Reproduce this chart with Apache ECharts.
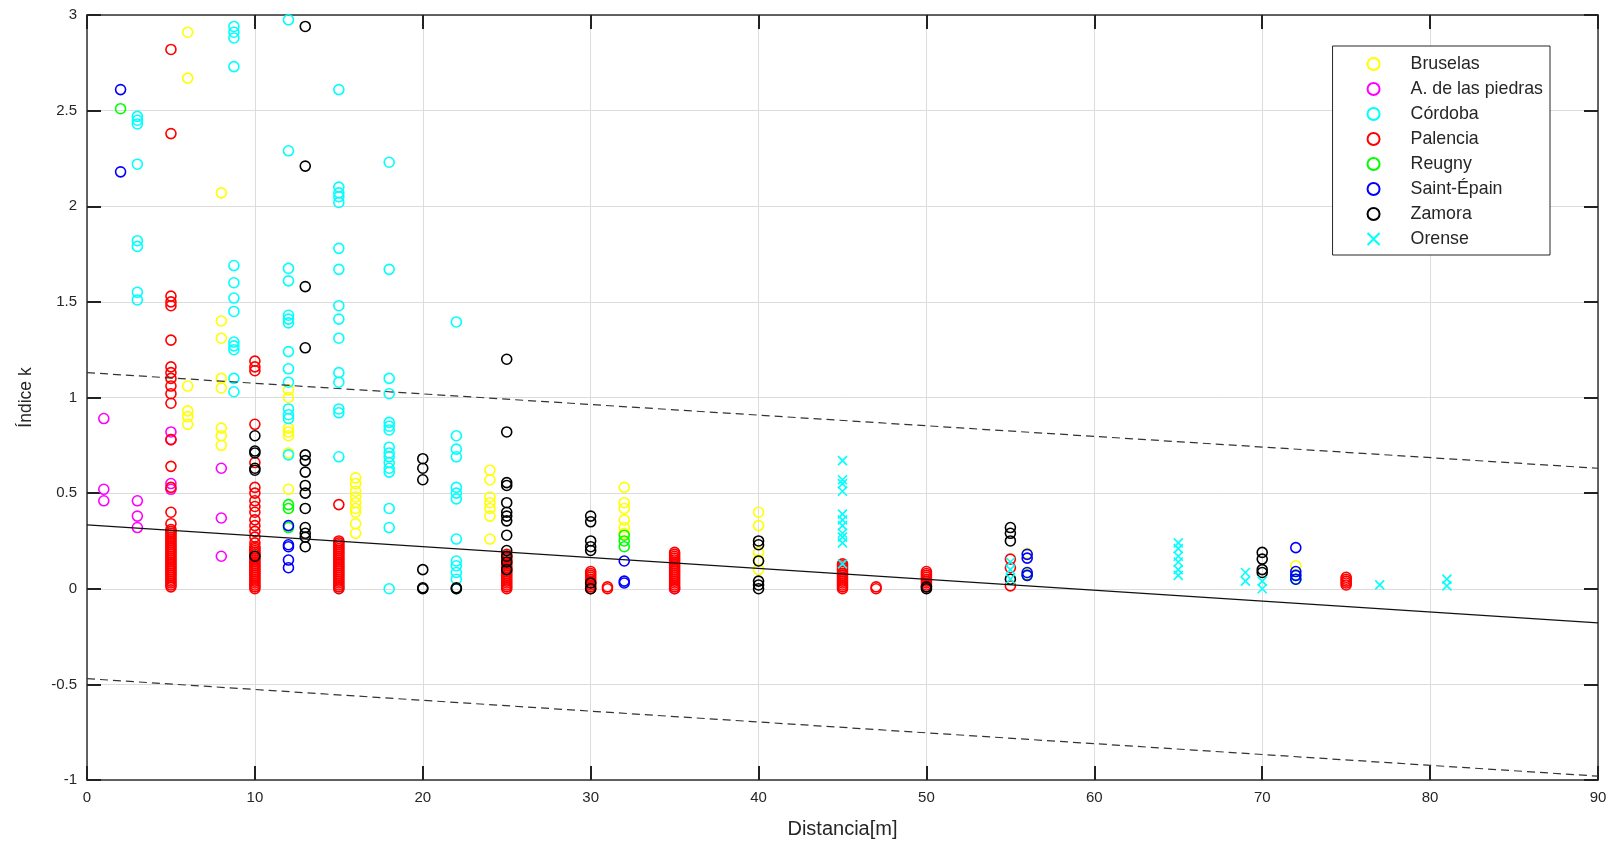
<!DOCTYPE html>
<html>
<head>
<meta charset="utf-8">
<script src="https://cdn.jsdelivr.net/npm/echarts@6/dist/echarts.min.js"></script>
<style>
html,body{margin:0;padding:0;background:#fff;}
#chart{width:1616px;height:848px;}
</style>
</head>
<body>
<div id="chart"></div>
<script>
// ---- Data ----
const seriesNames = ['Bruselas', 'A. de las piedras', 'Córdoba', 'Palencia', 'Reugny', 'Saint-Épain', 'Zamora', 'Orense'];
const seriesColors = ['#ffff00', '#ff00ff', '#00ffff', '#ff0000', '#00ff00', '#0000ff', '#000000', '#00ffff'];

const bruselas = [
  [6,2.91],[6,2.67],[6,1.06],[6,0.93],[6,0.90],[6,0.86],
  [8,2.07],[8,1.40],[8,1.31],[8,1.10],[8,1.05],[8,0.84],[8,0.80],[8,0.75],
  [12,1.04],[12,1.00],[12,0.84],[12,0.82],[12,0.80],[12,0.71],[12,0.52],
  [16,0.58],[16,0.55],[16,0.51],[16,0.48],[16,0.45],[16,0.42],[16,0.40],[16,0.34],[16,0.29],
  [24,0.62],[24,0.57],[24,0.48],[24,0.45],[24,0.42],[24,0.38],[24,0.26],
  [32,0.53],[32,0.45],[32,0.42],[32,0.36],[32,0.32],[32,0.29],
  [40,0.40],[40,0.33],[40,0.19],[40,0.15],[40,0.10],
  [56,0.185],[56,0.08],[72,0.12]
];
const piedras = [
  [1,0.89],[1,0.52],[1,0.46],
  [3,0.46],[3,0.38],[3,0.32],
  [5,0.82],[5,0.78],[5,0.55],[5,0.52],
  [8,0.63],[8,0.37],[8,0.17],
  [35,0.0]
];
const cordoba = [
  [3,2.47],[3,2.45],[3,2.43],[3,2.22],[3,1.82],[3,1.79],[3,1.55],[3,1.51],
  [8.75,2.94],[8.75,2.91],[8.75,2.88],[8.75,2.73],[8.75,1.69],[8.75,1.60],[8.75,1.52],[8.75,1.45],
  [8.75,1.29],[8.75,1.27],[8.75,1.25],[8.75,1.10],[8.75,1.03],
  [12,2.975],[12,2.29],[12,1.675],[12,1.61],[12,1.43],[12,1.41],[12,1.39],[12,1.24],[12,1.15],
  [12,1.08],[12,0.94],[12,0.91],[12,0.89],[12,0.70],
  [15,2.61],[15,2.10],[15,2.07],[15,2.05],[15,2.02],[15,1.78],[15,1.67],[15,1.48],[15,1.41],
  [15,1.31],[15,1.13],[15,1.08],[15,0.94],[15,0.92],[15,0.69],[15,0.0],
  [18,2.23],[18,1.67],[18,1.10],[18,1.02],[18,0.87],[18,0.85],[18,0.83],[18,0.74],[18,0.71],
  [18,0.69],[18,0.66],[18,0.63],[18,0.61],[18,0.42],[18,0.32],[18,0.0],
  [22,1.395],[22,0.80],[22,0.73],[22,0.69],[22,0.53],[22,0.50],[22,0.47],[22,0.26],
  [22,0.145],[22,0.12],[22,0.085],[22,0.05],[22,0.0]
];
const palencia = [
  [5,2.82],[5,2.38],[5,1.53],[5,1.50],[5,1.48],[5,1.30],[5,1.16],[5,1.13],[5,1.10],[5,1.06],[5,1.02],[5,0.97],
  [5,0.78],[5,0.64],[5,0.53],[5,0.40],[5,0.34],[5,0.31],[5,0.30],[5,0.29],[5,0.28],[5,0.27],[5,0.26],
  [5,0.25],[5,0.24],[5,0.23],[5,0.22],[5,0.21],[5,0.20],[5,0.19],[5,0.18],[5,0.17],[5,0.16],[5,0.15],
  [5,0.14],[5,0.13],[5,0.12],[5,0.11],[5,0.10],[5,0.09],[5,0.08],[5,0.07],[5,0.06],[5,0.05],[5,0.04],
  [5,0.03],[5,0.02],[5,0.01],
  [10,1.19],[10,1.16],[10,1.14],[10,0.86],[10,0.66],[10,0.53],[10,0.50],[10,0.46],[10,0.43],[10,0.40],
  [10,0.36],[10,0.33],[10,0.30],[10,0.27],[10,0.24],[10,0.22],[10,0.21],[10,0.20],[10,0.19],[10,0.18],
  [10,0.17],[10,0.16],[10,0.15],[10,0.14],[10,0.13],[10,0.12],[10,0.11],[10,0.10],[10,0.09],[10,0.08],
  [10,0.07],[10,0.06],[10,0.05],[10,0.04],[10,0.03],[10,0.02],[10,0.01],[10,0.0],
  [15,0.44],[15,0.25],[15,0.24],[15,0.23],[15,0.22],[15,0.21],[15,0.20],[15,0.19],[15,0.18],[15,0.17],
  [15,0.16],[15,0.15],[15,0.14],[15,0.13],[15,0.12],[15,0.11],[15,0.10],[15,0.09],[15,0.08],[15,0.07],
  [15,0.06],[15,0.05],[15,0.04],[15,0.03],[15,0.02],[15,0.01],[15,0.0],
  [25,0.18],[25,0.17],[25,0.16],[25,0.15],[25,0.14],[25,0.13],[25,0.12],[25,0.11],[25,0.10],[25,0.09],
  [25,0.08],[25,0.07],[25,0.06],[25,0.05],[25,0.04],[25,0.03],[25,0.02],[25,0.01],[25,0.0],
  [30,0.09],[30,0.08],[30,0.07],[30,0.06],[30,0.05],[30,0.04],[30,0.03],[30,0.02],[30,0.01],[30,0.0],
  [31,0.01],[31,0.0],
  [35,0.19],[35,0.18],[35,0.17],[35,0.16],[35,0.15],[35,0.14],[35,0.13],[35,0.12],[35,0.11],[35,0.10],
  [35,0.09],[35,0.08],[35,0.07],[35,0.06],[35,0.05],[35,0.04],[35,0.03],[35,0.02],[35,0.01],[35,0.0],
  [45,0.13],[45,0.12],[45,0.11],[45,0.10],[45,0.09],[45,0.08],[45,0.07],[45,0.06],[45,0.05],[45,0.04],
  [45,0.03],[45,0.02],[45,0.01],[45,0.0],
  [47,0.01],[47,0.0],
  [50,0.09],[50,0.08],[50,0.07],[50,0.06],[50,0.05],[50,0.04],[50,0.03],[50,0.02],[50,0.01],
  [55,0.155],[55,0.11],[55,0.015],
  [75,0.06],[75,0.05],[75,0.04],[75,0.03],[75,0.02]
];
const reugny = [
  [2,2.51],
  [12,0.44],[12,0.42],[12,0.32],
  [32,0.28],[32,0.25],[32,0.22],
  [56,0.07],[72,0.07],[72,0.05]
];
const saintEpain = [
  [2,2.61],[2,2.18],
  [12,0.33],[12,0.23],[12,0.22],[12,0.15],[12,0.11],
  [32,0.145],[32,0.04],[32,0.03],
  [56,0.18],[56,0.16],[56,0.085],[56,0.07],
  [72,0.215],[72,0.09],[72,0.07],[72,0.05]
];
const zamora = [
  [10,0.80],[10,0.72],[10,0.71],[10,0.63],[10,0.62],[10,0.17],
  [13,2.94],[13,2.21],[13,1.58],[13,1.26],[13,0.70],[13,0.67],[13,0.61],[13,0.54],[13,0.50],
  [13,0.42],[13,0.32],[13,0.29],[13,0.27],[13,0.22],
  [20,0.68],[20,0.63],[20,0.57],[20,0.10],[20,0.005],[20,0.0],
  [22,0.005],[22,0.0],
  [25,1.20],[25,0.82],[25,0.555],[25,0.54],[25,0.45],[25,0.40],[25,0.38],[25,0.355],[25,0.28],
  [25,0.20],[25,0.17],[25,0.14],[25,0.10],
  [30,0.38],[30,0.35],[30,0.25],[30,0.22],[30,0.20],[30,0.03],[30,0.0],
  [40,0.25],[40,0.23],[40,0.145],[40,0.04],[40,0.02],[40,0.0],
  [50,0.01],[50,0.0],
  [55,0.32],[55,0.29],[55,0.25],[55,0.05],
  [70,0.19],[70,0.155],[70,0.10],[70,0.085]
];
const orense = [
  [45,0.67],[45,0.57],[45,0.55],[45,0.51],[45,0.39],[45,0.36],[45,0.33],[45,0.29],[45,0.27],[45,0.24],[45,0.13],
  [55,0.14],[55,0.10],[55,0.05],
  [65,0.24],[65,0.21],[65,0.17],[65,0.14],[65,0.10],[65,0.07],
  [69,0.085],[69,0.04],
  [70,0.04],[70,0.0],
  [77,0.02],
  [81,0.05],[81,0.015]
];

// Fitted line and bounds (value at x = 0 and x = 90)
const fitX = [0, 90];
const fitY = [0.334, -0.178];
const upperY = [1.13, 0.63];
const lowerY = [-0.47, -0.98];

const xTicks = {min: 0, max: 90, interval: 10};
const yTicks = {min: -1, max: 3, interval: 0.5};

// ---- Chart ----
const allData = [bruselas, piedras, cordoba, palencia, reugny, saintEpain, zamora, orense];
const FONT = 'Liberation Sans';
const TXT = '#262626';

const scatterSeries = allData.map((d, i) => ({
  name: seriesNames[i],
  type: 'scatter',
  data: d,
  symbol: i === 7 ? 'path://M0,0L10,10M10,0L0,10' : 'circle',
  symbolSize: i === 7 ? 9 : 10,
  itemStyle: {color: 'rgba(0,0,0,0)', borderColor: seriesColors[i], borderWidth: 1.6, opacity: 1},
  emphasis: {disabled: true},
  silent: true,
  z: 2 + i * 0.01
}));

function lineSeries(ys, dashed) {
  return {
    type: 'line',
    data: fitX.map((x, k) => [x, ys[k]]),
    symbol: 'none',
    silent: true,
    lineStyle: {color: dashed ? '#333' : '#111', width: 1.2, type: dashed ? [8, 5] : 'solid'},
    z: 5
  };
}

function axisCommon() {
  return {
    axisLine: {show: true, onZero: false, lineStyle: {color: '#333', width: 1.5}},
    axisTick: {show: true, inside: true, length: 14, lineStyle: {color: '#222', width: 2}}
  };
}

const chart = echarts.init(document.getElementById('chart'), null, {renderer: 'canvas'});
chart.setOption({
  animation: false,
  backgroundColor: '#fff',
  textStyle: {fontFamily: FONT},
  grid: {left: 87, right: 18, top: 15, bottom: 68, show: false},
  legend: {
    data: seriesNames,
    orient: 'vertical',
    right: 66,
    top: 46,
    padding: [9, 7, 7, 34],
    itemWidth: 12,
    itemHeight: 12,
    itemGap: 7,
    borderColor: '#262626',
    borderWidth: 1,
    backgroundColor: '#fff',
    textStyle: {fontFamily: FONT, fontSize: 17.8, color: TXT, padding: [0, 0, 0, 26]},
    selectedMode: false
  },
  xAxis: [
    Object.assign({
      type: 'value', position: 'bottom', ...xTicks,
      name: 'Distancia[m]', nameLocation: 'middle', nameGap: 39,
      nameTextStyle: {fontFamily: FONT, fontSize: 20, color: TXT},
      axisLabel: {fontFamily: FONT, fontSize: 15, color: TXT, margin: 10},
      splitLine: {show: true, lineStyle: {color: '#dcdcdc', width: 1}}
    }, axisCommon()),
    Object.assign({
      type: 'value', position: 'top', ...xTicks,
      axisLabel: {show: false}, splitLine: {show: false}
    }, axisCommon())
  ],
  yAxis: [
    Object.assign({
      type: 'value', position: 'left', ...yTicks,
      name: 'Índice k', nameLocation: 'middle', nameGap: 52, nameRotate: 90,
      nameTextStyle: {fontFamily: FONT, fontSize: 17.5, color: TXT},
      axisLabel: {fontFamily: FONT, fontSize: 15, color: TXT, margin: 10},
      splitLine: {show: true, lineStyle: {color: '#dcdcdc', width: 1}}
    }, axisCommon()),
    Object.assign({
      type: 'value', position: 'right', ...yTicks,
      axisLabel: {show: false}, splitLine: {show: false}
    }, axisCommon())
  ],
  series: scatterSeries.concat([
    lineSeries(fitY, false),
    lineSeries(upperY, true),
    lineSeries(lowerY, true)
  ])
});
</script>
</body>
</html>
